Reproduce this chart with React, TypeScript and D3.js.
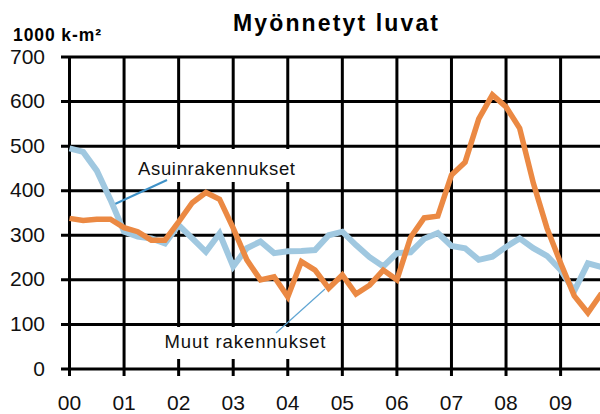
import React from "react";
import * as d3 from "d3";

const yearLabels = ["00", "01", "02", "03", "04", "05", "06", "07", "08", "09"];
const yTicks = [0, 100, 200, 300, 400, 500, 600, 700];

// Quarterly values, 2000 Q1 .. 2009 Q4 (1000 k-m²)
const asuin = [495, 487, 445, 380, 308, 297, 293, 282, 323, 293, 263, 304, 230, 271, 286, 260, 264, 265, 267, 300, 308, 278, 251, 230, 260, 262, 292, 305, 276, 271, 245, 252, 274, 293, 271, 254, 222, 175, 237, 229];
const muut = [338, 333, 336, 336, 317, 308, 289, 289, 330, 373, 396, 381, 316, 245, 200, 207, 162, 241, 222, 181, 211, 168, 188, 222, 200, 295, 339, 343, 435, 464, 561, 615, 588, 540, 417, 316, 238, 164, 126, 170];

const FONT = "'Liberation Sans', Arial, sans-serif";

export default function App() {
  const W = 600, H = 414;
  const x = d3.scaleLinear().domain([0, 9]).range([69.5, 560.6]);
  const y = d3.scaleLinear().domain([0, 700]).range([369, 57]);
  const line = d3
    .line<number>()
    .x((_, i) => x(i / 4))
    .y((d) => y(d))
    .curve(d3.curveLinear);

  const xRight = W;
  return (
    <div style={{ position: "fixed", left: 0, top: 0 }}>
      <svg width={W} height={H} style={{ display: "block", background: "#fff" }}>
        <rect x={0} y={0} width={W} height={H} fill="#fff" />
        {/* horizontal gridlines */}
        {yTicks.map((t) => (
          <line key={"h" + t} x1={61} x2={xRight} y1={y(t)} y2={y(t)} stroke="#000" strokeWidth={3} />
        ))}
        {/* vertical gridlines */}
        {yearLabels.map((l, i) => (
          <line key={"v" + l} x1={x(i)} x2={x(i)} y1={y(700)} y2={376} stroke="#000" strokeWidth={3} />
        ))}
        {/* y tick labels */}
        {yTicks.map((t) => (
          <text key={"yt" + t} x={45} y={y(t) + 6.5} textAnchor="end" fontFamily={FONT} fontSize={21} fill="#111">
            {t}
          </text>
        ))}
        {/* x tick labels */}
        {yearLabels.map((l, i) => (
          <text key={"xt" + l} x={x(i)} y={410} textAnchor="middle" fontFamily={FONT} fontSize={21} fill="#111">
            {l}
          </text>
        ))}
        {/* title and unit */}
        <text x={233} y={31} fontFamily={FONT} fontSize={23} fontWeight="bold" textLength={205} lengthAdjust="spacing" fill="#000">
          Myönnetyt luvat
        </text>
        <text x={13} y={41} fontFamily={FONT} fontSize={17.5} fontWeight="bold" textLength={88} lengthAdjust="spacing" fill="#000">
          1000 k-m²
        </text>
        {/* label boxes */}
        <rect x={131} y={149} width={174} height={33} fill="#fff" />
        <text x={138} y={175} fontFamily={FONT} fontSize={18.5} textLength={157} lengthAdjust="spacing" fill="#111">
          Asuinrakennukset
        </text>
        <rect x={159} y={327} width={181} height={32} fill="#fff" />
        <text x={164.5} y={348} fontFamily={FONT} fontSize={18.5} textLength={161} lengthAdjust="spacing" fill="#111">
          Muut rakennukset
        </text>
        {/* leader lines */}
        <line x1={115} y1={204} x2={167} y2={180} stroke="#3F92C8" strokeWidth={2} />
        <line x1={276} y1={333} x2={325} y2={289} stroke="#5FA5D3" strokeWidth={1.2} />
        {/* series */}
        <path d={line(asuin) || ""} fill="none" stroke="#A0C8E0" strokeWidth={6} strokeLinejoin="miter" />
        <path d={line(muut) || ""} fill="none" stroke="#EB8943" strokeWidth={5.5} strokeLinejoin="miter" />
      </svg>
    </div>
  );
}
